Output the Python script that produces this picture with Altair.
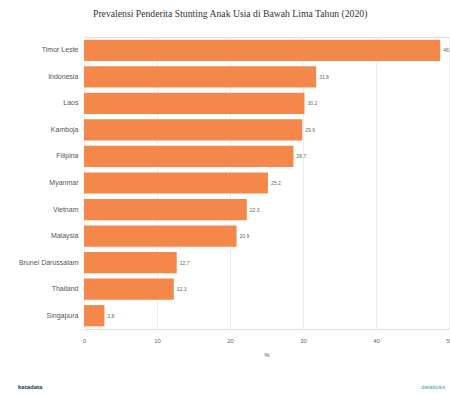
import altair as alt
import pandas as pd

countries = ["Timor Leste", "Indonesia", "Laos", "Kamboja", "Filipina", "Myanmar",
             "Vietnam", "Malaysia", "Brunei Darussalam", "Thailand", "Singapura"]
values = [48.8, 31.8, 30.2, 29.9, 28.7, 25.2, 22.3, 20.9, 12.7, 12.3, 2.8]
x_ticks = [0, 10, 20, 30, 40, 50]

df = pd.DataFrame({"negara": countries, "nilai": values})
df["label"] = df["nilai"].map(lambda v: f"{v:.1f}")

W, H = 365, 292

base = alt.Chart(df).encode(
    y=alt.Y("negara:N", sort=countries, title=None,
            scale=alt.Scale(paddingInner=0.2, paddingOuter=0.1),
            axis=alt.Axis(domain=False, ticks=False, labelFontSize=7, labelColor="#555",
                          labelPadding=6, labelFont="Liberation Sans")),
)

bars = base.mark_bar(color="#F4884A").encode(
    x=alt.X("nilai:Q", title="%", scale=alt.Scale(domain=[0, 50], nice=False),
            axis=alt.Axis(values=x_ticks, grid=True, gridColor="#eeeeee", domain=False,
                          ticks=False, labelFontSize=6, labelColor="#666", titleFontSize=6,
                          titleColor="#555", titleFontWeight="normal", labelPadding=8,
                          titlePadding=8, labelFont="Liberation Sans", labelFlush=False)),
)

labels = base.mark_text(align="left", dx=3, fontSize=5, color="#666",
                        font="Liberation Sans").encode(
    x="nilai:Q", text="label:N")

footer_left = alt.Chart(pd.DataFrame({"t": ["katadata"]})).mark_text(
    align="left", fontSize=6, fontWeight="bold", color="#1a3a5c", font="Liberation Sans"
).encode(x=alt.value(-66), y=alt.value(H + 58), text="t:N")

footer_right = alt.Chart(pd.DataFrame({"t": ["databoks"]})).mark_text(
    align="left", fontSize=6, color="#3aa8a0", font="Liberation Sans"
).encode(x=alt.value(W - 28), y=alt.value(H + 58), text="t:N")

chart = alt.layer(bars, labels, footer_left, footer_right).properties(
    width=W, height=H,
    title=alt.TitleParams("Prevalensi Penderita Stunting Anak Usia di Bawah Lima Tahun (2020)",
                          anchor="start", frame="group", dx=9, fontSize=9.7,
                          font="Liberation Serif", fontWeight="normal", color="#333",
                          offset=18),
    autosize=alt.AutoSizeParams(type="none"),
    padding={"left": 84, "top": 37, "right": 1, "bottom": 65},
).configure_view(stroke=None).configure(background="white")

chart.save("out.html", embed_options={"renderer": "svg", "actions": False})
